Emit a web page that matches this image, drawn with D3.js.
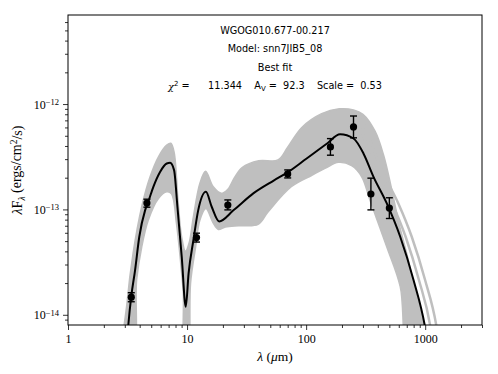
<!DOCTYPE html>
<html>
<head>
<meta charset="utf-8">
<script src="https://cdn.jsdelivr.net/npm/d3@7"></script>
<style>
  body { margin: 0; background: #fff; }
  svg { display: block; }
  .info { font-family: "DejaVu Sans", sans-serif; font-size: 9.7px; white-space: pre; }
  .tk { font-family: "Liberation Serif", "DejaVu Serif", serif; font-size: 12px; }
</style>
</head>
<body>
<div id="chart"></div>
<script>
// best fit model (wavelength in micron, lambda*F_lambda)
const bestLam = [3.05, 3.21, 3.4, 3.66, 3.97, 4.44, 4.72, 5.21, 5.93, 6.75, 7.2, 7.78, 8.3, 9.02, 9.75, 10.3, 11.3, 12.4, 14.4, 16.1, 18.6, 24.5, 36, 53, 71, 101, 149, 193, 250, 303, 368, 476, 617, 798, 990, 1060];
const bestFlux = [4e-15, 8e-15, 1.5e-14, 2.66e-14, 5.5e-14, 9.8e-14, 1.18e-13, 1.64e-13, 2.27e-13, 2.73e-13, 2.77e-13, 2.36e-13, 1.06e-13, 3.55e-14, 1.19e-14, 2.47e-14, 5.1e-14, 9.8e-14, 1.47e-13, 1.06e-13, 7.7e-14, 9.8e-14, 1.42e-13, 1.87e-13, 2.27e-13, 3.04e-13, 4.2e-13, 5.17e-13, 4.71e-13, 3.4e-13, 2.04e-13, 1.14e-13, 5.5e-14, 2.14e-14, 8e-15, 5e-15];

// envelope of the other good fits (grey)
const upLam = [2.95, 3.15, 3.52, 4.16, 4.89, 5.75, 6.75, 7.3, 7.78, 8.4, 9.0, 9.7, 10.4, 11.3, 12.8, 14.3, 16.6, 19.5, 22, 25, 29, 40, 58, 70, 92, 135, 190, 250, 300, 380, 450, 520, 600, 700, 800, 900, 1000, 1060];
const upFlux = [4e-15, 1.38e-14, 3.83e-14, 1.06e-13, 2.04e-13, 3.16e-13, 4.07e-13, 4.25e-13, 3.5e-13, 1.2e-13, 5.5e-14, 4.0e-14, 4.8e-14, 8.5e-14, 1.76e-13, 2.3e-13, 1.64e-13, 1.42e-13, 1.55e-13, 2.0e-13, 2.5e-13, 2.9e-13, 2.95e-13, 3.9e-13, 6.0e-13, 8.1e-13, 9.0e-13, 8.8e-13, 8.0e-13, 5.5e-13, 3.2e-13, 1.6e-13, 7.5e-14, 3.8e-14, 2.0e-14, 1.15e-14, 7e-15, 4e-15];
const loLam = [3.5, 3.77, 4.16, 4.72, 5.75, 6.75, 7.4, 8.14, 9.0, 9.3, 9.6, 10.1, 10.7, 11.8, 12.8, 14.4, 16.6, 18.3, 21, 27, 39.5, 48, 75, 111, 144, 187, 241, 293, 344, 476, 617, 740];
const loFlux = [4e-15, 2.14e-14, 4.4e-14, 7.9e-14, 1.27e-13, 1.47e-13, 1.41e-13, 7.4e-14, 2.5e-14, 1.6e-14, 4e-15, 4e-15, 2.0e-14, 4.4e-14, 7.9e-14, 1.02e-13, 7.4e-14, 6.46e-14, 6.8e-14, 7.0e-14, 7.2e-14, 9.5e-14, 1.64e-13, 2.1e-13, 2.45e-13, 2.8e-13, 2.6e-13, 2.04e-13, 1.22e-13, 4.4e-14, 1.85e-14, 4e-15];

// two grey fits that run just past the band at long wavelengths
const lineALam = [250, 320, 379, 460, 595, 771, 998, 1238, 1320];
const lineAFlux = [8.5e-13, 5.8e-13, 3.4e-13, 2.04e-13, 1.14e-13, 5.5e-14, 2.14e-14, 8e-15, 5e-15];
const lineBLam = [250, 300, 336, 408, 528, 685, 886, 1099, 1170];
const lineBFlux = [7e-13, 5.2e-13, 3.4e-13, 2.04e-13, 1.14e-13, 5.5e-14, 2.14e-14, 8e-15, 5e-15];

// photometry
const obsLam = [3.4, 4.6, 12, 22, 70, 160, 250, 350, 500];
const obsFlux = [1.47e-14, 1.15e-13, 5.4e-14, 1.1e-13, 2.17e-13, 3.92e-13, 6.07e-13, 1.4e-13, 1.03e-13];
const obsLo = [1.33e-14, 1.05e-13, 4.9e-14, 9.9e-14, 1.99e-13, 3.27e-13, 4.78e-13, 9.9e-14, 8.2e-14];
const obsHi = [1.62e-14, 1.25e-13, 5.95e-14, 1.23e-13, 2.37e-13, 4.7e-13, 7.7e-13, 1.98e-13, 1.29e-13];

const xMajor = [1, 10, 100, 1000];
const yMajor = [1e-14, 1e-13, 1e-12];
const yExp = ["\u221214", "\u221213", "\u221212"];

const infoLines = ["WGOG010.677-00.217", "Model: snn7JIB5_08", "Best fit"];

const W = 498, H = 374;
const margin = { top: 15, right: 16, bottom: 49, left: 68 };
const width = W - margin.left - margin.right,
      height = H - margin.top - margin.bottom;

const svg = d3.select("#chart").append("svg")
    .attr("width", W).attr("height", H);

const g = svg.append("g")
    .attr("transform", "translate(" + margin.left + "," + margin.top + ")");

const x = d3.scaleLog().domain([1, 3000]).range([0, width]);
const y = d3.scaleLog().domain([8e-15, 7e-12]).range([height, 0]);

g.append("clipPath").attr("id", "clip")
  .append("rect").attr("width", width).attr("height", height);

const plot = g.append("g").attr("clip-path", "url(#clip)");

const line = d3.line()
    .x(d => x(d[0]))
    .y(d => y(d[1]))
    .curve(d3.curveMonotoneX);

// grey band: upper edge left->right then lower edge back
const band = upLam.map((l, i) => [l, upFlux[i]])
    .concat(loLam.map((l, i) => [l, loFlux[i]]).reverse());
plot.append("path")
    .attr("d", d3.line().x(d => x(d[0])).y(d => y(d[1])).curve(d3.curveCatmullRomClosed.alpha(0.5))(band))
    .attr("fill", "#bfbfbf")
    .attr("stroke", "#bfbfbf")
    .attr("stroke-width", 1.5);

[[lineALam, lineAFlux], [lineBLam, lineBFlux]].forEach(function (s) {
  plot.append("path")
      .attr("d", line(s[0].map((l, i) => [l, s[1][i]])))
      .attr("fill", "none")
      .attr("stroke", "#bfbfbf")
      .attr("stroke-width", 2.5);
});

plot.append("path")
    .attr("d", line(bestLam.map((l, i) => [l, bestFlux[i]])))
    .attr("fill", "none")
    .attr("stroke", "#000")
    .attr("stroke-width", 2);

// error bars and points
const pts = g.append("g");
obsLam.forEach(function (l, i) {
  const cx = x(l);
  pts.append("line").attr("x1", cx).attr("x2", cx)
     .attr("y1", y(obsLo[i])).attr("y2", y(obsHi[i]))
     .attr("stroke", "#000").attr("stroke-width", 1.4);
  [obsLo[i], obsHi[i]].forEach(function (v) {
    pts.append("line").attr("x1", cx - 3.5).attr("x2", cx + 3.5)
       .attr("y1", y(v)).attr("y2", y(v))
       .attr("stroke", "#000").attr("stroke-width", 1.4);
  });
  pts.append("circle").attr("cx", cx).attr("cy", y(obsFlux[i]))
     .attr("r", 3.6).attr("fill", "#000");
});

// axes
const xMinor = [];
[1, 10, 100, 1000].forEach(b => { for (let k = 2; k <= 9; k++) if (b * k <= 3000) xMinor.push(b * k); });
const yMinor = [9e-15];
[1e-14, 1e-13, 1e-12].forEach(b => { for (let k = 2; k <= 9; k++) if (b * k < 7e-12) yMinor.push(b * k); });

g.append("g").attr("transform", "translate(0," + height + ")")
  .call(d3.axisBottom(x).tickValues(xMinor).tickSize(3).tickFormat(""))
  .call(a => a.select(".domain").remove());
const xa = g.append("g").attr("transform", "translate(0," + height + ")")
  .call(d3.axisBottom(x).tickValues(xMajor).tickSize(5).tickPadding(4).tickFormat(d3.format("d")));
xa.select(".domain").remove();
xa.selectAll("text").attr("class", "tk").attr("fill", "#000").attr("font-size", null).attr("font-family", null);

g.append("g")
  .call(d3.axisLeft(y).tickValues(yMinor).tickSize(3).tickFormat(""))
  .call(a => a.select(".domain").remove());
const ya = g.append("g")
  .call(d3.axisLeft(y).tickValues(yMajor).tickSize(5).tickPadding(4).tickFormat(""));
ya.select(".domain").remove();
ya.selectAll(".tick text").each(function (d, i) {
  const t = d3.select(this).attr("class", "tk").attr("fill", "#000")
     .attr("font-size", null).attr("font-family", null).attr("dy", "0.35em");
  t.append("tspan").text("10");
  t.append("tspan").attr("font-size", "8.5px").attr("dy", "-0.45em").text(yExp[i]);
});
g.selectAll(".tick line").attr("stroke", "#000").attr("stroke-width", 0.8);

g.append("rect").attr("width", width).attr("height", height)
  .attr("fill", "none").attr("stroke", "#000").attr("stroke-width", 1);

// labels
const info = g.append("g");
infoLines.forEach(function (s, i) {
  info.append("text").attr("class", "info")
      .attr("x", width / 2).attr("y", 18.5 + i * 18.7)
      .attr("text-anchor", "middle").text(s);
});
const stat = info.append("text").attr("class", "info")
    .attr("x", width / 2).attr("y", 74.5).attr("text-anchor", "middle");
stat.append("tspan").attr("font-style", "italic").attr("font-family", "DejaVu Serif").text("\u03c7");
stat.append("tspan").attr("font-size", "7px").attr("dy", "-0.45em").text("2");
stat.append("tspan").attr("dy", "0.3em").text(" =      11.344    A");
stat.append("tspan").attr("font-size", "7px").attr("dy", "0.2em").text("V");
stat.append("tspan").attr("dy", "-0.2em").text(" =  92.3    Scale =  0.53");

svg.append("text")
   .attr("x", margin.left + width / 2).attr("y", 361)
   .attr("text-anchor", "middle")
   .attr("font-family", "Liberation Serif, DejaVu Serif, serif").attr("font-size", "13.5px")
   .call(t => {
     t.append("tspan").attr("font-style", "italic").text("\u03bb");
     t.append("tspan").text(" (");
     t.append("tspan").attr("font-style", "italic").text("\u03bc");
     t.append("tspan").text("m)");
   });

svg.append("text")
   .attr("transform", "translate(22," + (margin.top + height / 2) + ") rotate(-90)")
   .attr("text-anchor", "middle")
   .attr("font-family", "Liberation Serif, DejaVu Serif, serif").attr("font-size", "14px")
   .call(t => {
     t.append("tspan").attr("font-style", "italic").text("\u03bb");
     t.append("tspan").text("F");
     t.append("tspan").attr("font-style", "italic").attr("font-size", "9.5px").attr("dy", "0.3em").text("\u03bb");
     t.append("tspan").attr("dy", "-0.3em").text(" (ergs/cm");
     t.append("tspan").attr("font-size", "9.5px").attr("dy", "-0.4em").text("2");
     t.append("tspan").attr("dy", "0.4em").text("/s)");
   });
</script>
</body>
</html>
